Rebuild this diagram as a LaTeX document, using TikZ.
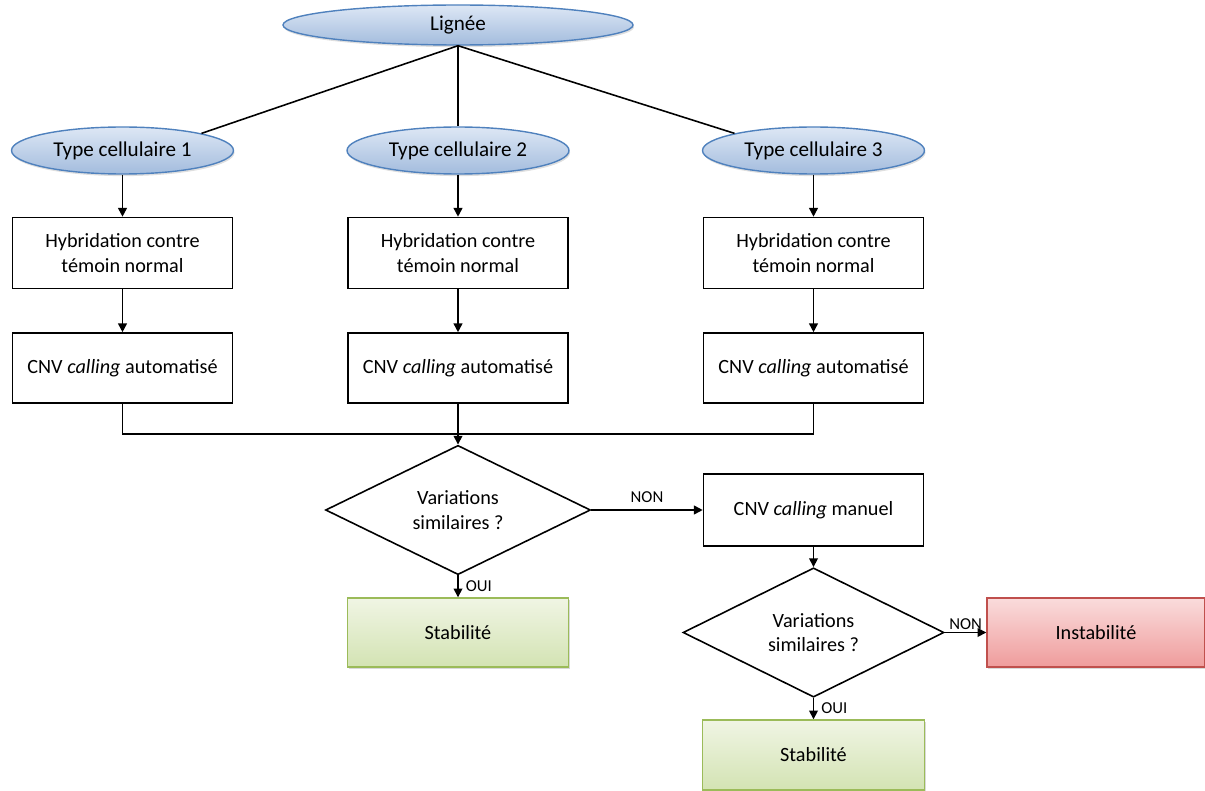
\documentclass[tikz,border=0pt]{standalone}
\usepackage{fontspec}
\setmainfont{Carlito}
\usepackage{xcolor}
\usepackage{tikz}
\usetikzlibrary{arrows.meta,shapes.geometric,shadows}

\definecolor{cellborder}{HTML}{4F81BD}
\definecolor{celltop}{HTML}{DDE7F5}
\definecolor{cellbottom}{HTML}{A3BCDD}
\definecolor{stabborder}{HTML}{9BBB59}
\definecolor{stabtop}{HTML}{F0F5E4}
\definecolor{stabbottom}{HTML}{D3E3B3}
\definecolor{instabborder}{HTML}{C0504D}
\definecolor{instabtop}{HTML}{FADCDC}
\definecolor{instabbottom}{HTML}{EF9C9C}

\tikzset{
  txt/.style={font=\fontsize{11.5}{13.8}\selectfont, align=center},
  cellnode/.style={txt, font=\fontsize{12}{14}\selectfont, ellipse, draw=cellborder,
    line width=0.8pt, inner sep=0pt,
    top color=celltop, bottom color=cellbottom,
    drop shadow={opacity=0.25, shadow xshift=0.6pt, shadow yshift=-1.2pt}},
  stepbox/.style={txt, rectangle, draw, line width=0.9pt, fill=white,
    minimum width=4.4cm, minimum height=1.42cm},
  decision/.style={txt, diamond, draw, line width=0.9pt, fill=white, inner sep=0pt},
  stabbox/.style={txt, rectangle, draw=stabborder, line width=0.8pt,
    top color=stabtop, bottom color=stabbottom,
    minimum width=4.42cm, minimum height=1.38cm,
    drop shadow={opacity=0.3, shadow xshift=0.8pt, shadow yshift=-1.2pt}},
  instabbox/.style={stabbox, draw=instabborder,
    top color=instabtop, bottom color=instabbottom},
  flow/.style={-{Stealth[length=5pt,width=5pt,inset=0pt]}, line width=0.9pt},
  link/.style={line width=0.9pt},
  answer/.style={font=\fontsize{9.5}{11}\selectfont, inner sep=4pt}
}

\begin{document}
\begin{tikzpicture}
    \useasboundingbox (0,0) rectangle (24.1,-15.82);
    % Lineage and cell types
    \node[cellnode, minimum width=7.0cm, minimum height=0.8cm] (lignee) at ( 9.16,-0.50) {Lignée};
    \node[cellnode, minimum width=4.44cm, minimum height=0.94cm] (type1) at ( 2.45,-3.01) {Type cellulaire 1};
    \node[cellnode, minimum width=4.44cm, minimum height=0.94cm] (type2) at ( 9.16,-3.01) {Type cellulaire 2};
    \node[cellnode, minimum width=4.44cm, minimum height=0.94cm] (type3) at (16.27,-3.01) {Type cellulaire 3};
    % Hybridation
    \node[stepbox] (hyb1) at ( 2.45,-5.06) {Hybridation contre\\témoin normal};
    \node[stepbox] (hyb2) at ( 9.16,-5.06) {Hybridation contre\\témoin normal};
    \node[stepbox] (hyb3) at (16.27,-5.06) {Hybridation contre\\témoin normal};
    % Automatic CNV calling
    \node[stepbox, minimum height=1.4cm] (cnv1) at ( 2.45,-7.36) {CNV \textit{calling} automatisé};
    \node[stepbox, minimum height=1.4cm] (cnv2) at ( 9.16,-7.36) {CNV \textit{calling} automatisé};
    \node[stepbox, minimum height=1.4cm] (cnv3) at (16.27,-7.36) {CNV \textit{calling} automatisé};
    \coordinate (merge) at (9.16,-8.68);
    % First comparison
    \node[decision, minimum width=5.3cm, minimum height=1.8cm] (var1) at (9.16,-10.20) {Variations\\similaires ?};
    \node[stepbox, minimum height=1.44cm] (manuel) at (16.27,-10.20) {CNV \textit{calling} manuel};
    \node[stabbox] (stab1) at (9.16,-12.65) {Stabilité};
    % Second comparison
    \node[decision, minimum width=5.22cm, minimum height=1.86cm] (var2) at (16.27,-12.65) {Variations\\similaires ?};
    \node[instabbox, minimum width=4.36cm] (instab) at (21.92,-12.65) {Instabilité};
    \node[stabbox, minimum width=4.44cm, minimum height=1.4cm] (stab2) at (16.27,-15.10) {Stabilité};
    % Edges
    % Lineage to cell types
    \draw[link] (lignee.south) -- (type1.north east);
    \draw[link] (lignee.south) -- (type2.north);
    \draw[link] (lignee.south) -- (type3.north west);
    % Cell types to hybridation to CNV calling
    \foreach \i in {1,2,3} {
        \draw[flow] (type\i.south) -- (hyb\i.north);
        \draw[flow] (hyb\i.south) -- (cnv\i.north);
    }
    % Merge of the three results
    \draw[link] (cnv1.south) |- (merge) -| (cnv3.south);
    \draw[link] (cnv2.south) -- (merge);
    \draw[flow] (merge) -- (var1.north);
    % First decision
    \draw[flow] (var1.east) -- node[answer, above] {NON} (manuel.west);
    \draw[flow] (var1.south) -- node[answer, right] {OUI} (stab1.north);
    % Second decision
    \draw[flow] (manuel.south) -- (var2.north);
    \draw[flow] (var2.east) -- node[answer, above, inner sep=1pt] {NON} (instab.west);
    \draw[flow] (var2.south) -- node[answer, right] {OUI} (stab2.north);
\end{tikzpicture}
\end{document}
